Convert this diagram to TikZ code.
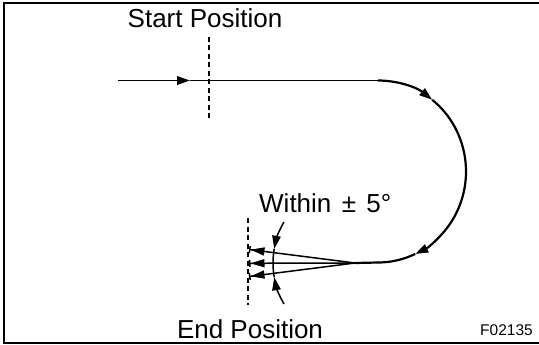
\documentclass[tikz,border=0pt]{standalone}
\usepackage{fontspec}
\setmainfont{Liberation Sans}
\usetikzlibrary{arrows.meta}
\begin{document}
\begin{tikzpicture}[x=1pt,y=-1pt,
  tri/.style={-{Triangle[length=13pt,width=8.5pt]}},
  fan/.style={line width=1.5pt,-{Triangle[length=14pt,width=8pt]Bar[width=7pt,line width=1.5pt]}},
  lbl/.style={font=\fontsize{26}{30}\selectfont, inner sep=0pt, anchor=base},
  dsh/.style={line width=1.5pt, dash pattern=on 5pt off 3.5pt},
  path/.style={line width=2.2pt}]
\useasboundingbox (0,0) rectangle (539,345);
\draw[line width=2.6pt] (539,3) -- (4,3) -- (4,343) -- (539,343);
% main path
\coordinate (s) at (118,80.5);
\coordinate (a1) at (190,80.5);
\coordinate (top) at (378,80.5);
\coordinate (c) at (355,263);
\draw[line width=1.9pt, tri] (s) -- (a1);
\draw[line width=1.9pt] (a1) -- (top);
\draw[path, tri] (top) arc[start angle=-90, end angle=-52, x radius=88, y radius=91] coordinate (p1);
\draw[path, tri] (p1) arc[start angle=-52, end angle=65, x radius=88, y radius=91] coordinate (p2);
\draw[path] (p2) arc[start angle=65, end angle=90, x radius=88, y radius=91] coordinate (bot);
\draw[path] (bot) -- (c);
% fan
\coordinate (t1) at (249,249.5);
\coordinate (t2) at (249,263.3);
\coordinate (t3) at (249,276.5);
\draw[fan] (c) -- (t1);
\draw[fan] (c) -- (t2);
\draw[fan] (c) -- (t3);
% tolerance arc
\draw[line width=1.5pt, tri] (c) ++(210:82) arc[start angle=210, end angle=190, radius=82] coordinate (q1);
\draw[line width=1.5pt] (q1) arc[start angle=190, end angle=170, radius=82];
\draw[line width=1.5pt, tri] (c) ++(150:82) arc[start angle=150, end angle=170, radius=82];
% dashed position lines
\draw[dsh] (209,37) -- (209,120);
\draw[dsh] (248,218) -- (248,305);
% labels
\node[lbl] (st) at (205,28) {Start Position};
\node[lbl, anchor=base west] (w) at (259,212) {Within\hspace{0.4em}±\hspace{0.4em}5°};
\node[lbl] (en) at (250,338) {End Position};
\node[font=\fontsize{15.5}{18}\selectfont, inner sep=0pt, anchor=base east] (f) at (533,335) {F02135};
\end{tikzpicture}
\end{document}
